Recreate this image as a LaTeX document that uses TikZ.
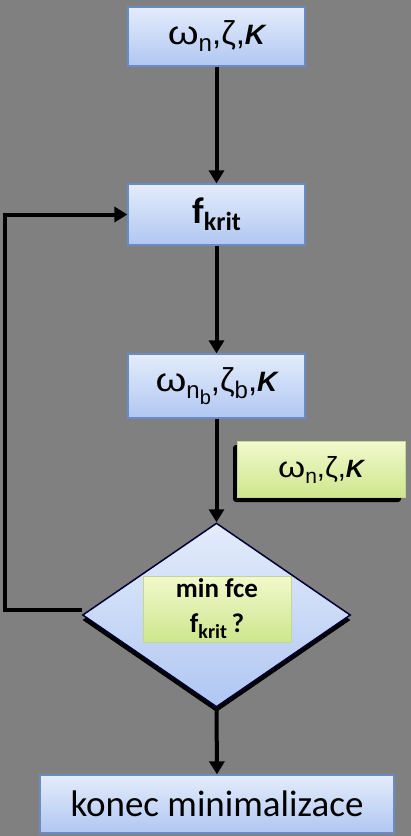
\documentclass[tikz,border=0pt]{standalone}
\usepackage{fontspec}
\setmainfont{Liberation Sans}
\newfontfamily\carl{Carlito}
\newfontfamily\arl{Liberation Sans}
\usetikzlibrary{arrows.meta,shapes.geometric}
\newcommand\lsub[3]{\raisebox{-#2}{\fontsize{#1}{#1}\selectfont #3}}
\newcommand\wom{\scalebox{1.2}[1]{ω}}
\definecolor{bg}{HTML}{808080}
\definecolor{btop}{HTML}{E4ECFB}
\definecolor{bbot}{HTML}{B0C7F2}
\definecolor{bline}{HTML}{6A8CC4}
\definecolor{gtop}{HTML}{F2F9CC}
\definecolor{gbot}{HTML}{CDE68D}
\definecolor{gline}{HTML}{C2D890}
\tikzset{
  bluebox/.style={rectangle,draw=bline,line width=1.2pt,top color=btop,bottom color=bbot,inner sep=0pt,text=black},
  greenbox/.style={rectangle,draw=gline,line width=1pt,top color=gtop,bottom color=gbot,inner sep=0pt,text=black},
  conn/.style={line width=4pt,-{Triangle[length=13pt,width=15pt]}}
}
\begin{document}
\begin{tikzpicture}[x=1pt,y=-1pt]
\fill[bg] (0,0) rectangle (411,836);
\useasboundingbox (0,0) rectangle (411,836);
% boxes
\node[bluebox,minimum width=177pt,minimum height=59pt,font=\arl\fontsize{33}{36}\selectfont] (b1) at (216.5,36.5)
  {\wom\lsub{24}{7pt}{n},ζ,{\fontsize{28}{30}\selectfont\bfseries\itshape K}};
\node[bluebox,minimum width=177pt,minimum height=61pt,font=\carl\bfseries\fontsize{37}{40}\selectfont] (b2) at (216.5,214.5)
  {f\lsub{26}{7pt}{krit}};
\node[bluebox,minimum width=177pt,minimum height=64pt,font=\arl\fontsize{33}{36}\selectfont] (b3) at (216.5,386)
  {\wom\lsub{24}{7pt}{n\lsub{20}{6pt}{b}},ζ\lsub{24}{7pt}{b},{\fontsize{28}{30}\selectfont\bfseries\itshape K}};
% green side box with shadow
\fill[black,rounded corners=3pt] (233,445) rectangle (401,502);
\node[greenbox,minimum width=168pt,minimum height=56pt,font=\arl\fontsize{29}{32}\selectfont] (g1) at (321,469.5)
  {\wom\lsub{21}{6pt}{n},ζ,{\fontsize{25}{28}\selectfont\bfseries\itshape K}};
% diamond
\node[diamond,fill=black,minimum width=268pt,minimum height=184pt,inner sep=0pt] at (216.5,620) {};
\node[diamond,draw=black!80!blue,line width=1.5pt,top color=btop,bottom color=bbot,minimum width=268pt,minimum height=184pt,inner sep=0pt] (d) at (216.5,615) {};
\node[greenbox,minimum width=148pt,minimum height=66pt,align=center,font=\carl\bfseries\fontsize{27}{35}\selectfont] (g2) at (217,609)
  {min fce\\ f\lsub{20}{6pt}{krit}\,?};
% end box
\node[bluebox,minimum width=354pt,minimum height=58pt,font=\carl\fontsize{37}{40}\selectfont] (b5) at (217,804)
  {konec minimalizace};
% connectors
\draw[conn] (b1.south) -- (b2.north);
\draw[conn] (b2.south) -- (b3.north);
\draw[conn] (b3.south) -- (d.north);
\draw[conn] (d.south) -- (b5.north);
\coordinate (lp) at (5,610);
\draw[conn] (d.west |- lp) -- (lp) |- (b2.west);
\end{tikzpicture}
\end{document}
